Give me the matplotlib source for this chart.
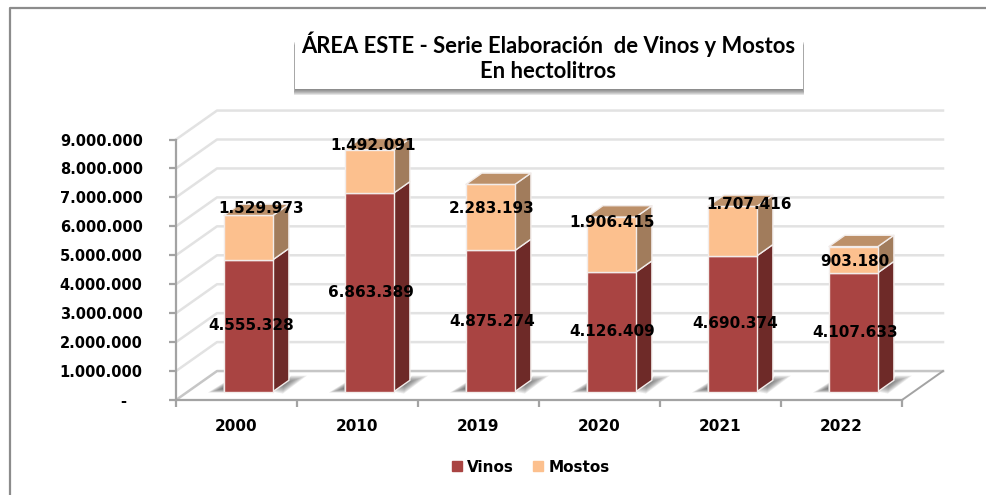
import matplotlib
matplotlib.use('Agg')
import matplotlib.pyplot as plt
from matplotlib.patches import Patch, Rectangle

years = ['2000', '2010', '2019', '2020', '2021', '2022']
vinos = [4555328, 6863389, 4875274, 4126409, 4690374, 4107633]
mostos = [1529973, 1492091, 2283193, 1906415, 1707416, 903180]
y_ticks = [0, 1000000, 2000000, 3000000, 4000000, 5000000, 6000000, 7000000, 8000000, 9000000]

# hand placed label offsets, in pixels from the category centre / segment middle
vinos_off = [(14.5, 0), (13.5, 0), (13.5, 0), (12.5, 0), (14.5, 0), (13.5, 0)]
mostos_off = [(24.5, 29), (15.5, 26), (13.5, 9), (12.5, 22), (28.5, 27), (13.5, -2)]

W, H = 987, 495
RED, RED_SIDE = '#a94442', '#6e2a28'
PEACH, PEACH_SIDE, PEACH_TOP = '#fcc08e', '#a17c5c', '#bc9069'
GRID = '#e2e2e2'
FLOOR = '#c6c6c6'
AXIS = '#a3a3a3'
EDGE = '#f2ecea'

# one unit of depth = 41px across, 1M up
DX = 41 / 121
DY = 1000000
PX_X = 1 / 121
PX_Y = 1000000 / 29
BAR_W = 49 / 121
BAR_D0 = 0.29
BAR_D1 = 0.68

# floor shadow outline, pixels from the bar's front right foot, and where it fades to
SHADOW_R = [(0, 0), (16, 12), (18, 16), (34, 16), (10, -2)]
SHADOW_R_IN = (11, 8)
SHADOW_L = [(-49, -1), (-65, -1), (-49, 9)]
SHADOW_L_IN = (-50, 3)


def fmt(v):
	return f'{v:,}'.replace(',', '.')


def pr(x, y, d):
	return x + d * DX, y + d * DY


def face(ax, pts, color, z, edge=EDGE, lw=1.0, alpha=None):
	xs = [p[0] for p in pts]
	ys = [p[1] for p in pts]
	ax.fill(xs, ys, facecolor=color, edgecolor=edge, lw=lw, zorder=z, alpha=alpha,
		clip_on=False, joinstyle='round')


def shadow(ax, foot, outline, inner):
	for k in range(10):
		s = 1 - k / 10
		pts = []
		for px, py in outline:
			qx = inner[0] + (px - inner[0]) * s
			qy = inner[1] + (py - inner[1]) * s
			pts.append((foot[0] + qx * PX_X, foot[1] + qy * PX_Y))
		face(ax, pts, '#404040', 2, edge='none', lw=0, alpha=0.1)


fig = plt.figure(figsize=(W / 100, H / 100), dpi=100, facecolor='white')
ax = fig.add_axes([176 / W, (H - 400) / H, (902 - 176) / W, (400 - 139.5) / H])
ax.set_xlim(-0.5, 5.5)
ax.set_ylim(0, 9000000)
ax.patch.set_alpha(0)

# back wall, side wall, floor
for t in y_ticks:
	col = FLOOR if t == 0 else GRID
	ax.plot([pr(-0.5, t, 0)[0], pr(-0.5, t, 1)[0], pr(5.5, t, 1)[0]],
		[pr(-0.5, t, 0)[1], pr(-0.5, t, 1)[1], pr(5.5, t, 1)[1]],
		color=col, lw=1.8, zorder=1, clip_on=False)
ax.plot([5.5, pr(5.5, 0, 1)[0]], [0, pr(5.5, 0, 1)[1]], color=AXIS, lw=1.4, zorder=1, clip_on=False)

# bars
for i in range(len(years)):
	x0 = i - BAR_W / 2
	x1 = i + BAR_W / 2
	v = vinos[i]
	top = v + mostos[i]

	foot = pr(x1, 0, BAR_D0)
	shadow(ax, foot, SHADOW_R, SHADOW_R_IN)
	shadow(ax, foot, SHADOW_L, SHADOW_L_IN)

	face(ax, [pr(x1, 0, BAR_D0), pr(x1, 0, BAR_D1), pr(x1, v, BAR_D1), pr(x1, v, BAR_D0)], RED_SIDE, 3)
	face(ax, [pr(x0, 0, BAR_D0), pr(x1, 0, BAR_D0), pr(x1, v, BAR_D0), pr(x0, v, BAR_D0)], RED, 3)
	face(ax, [pr(x1, v, BAR_D0), pr(x1, v, BAR_D1), pr(x1, top, BAR_D1), pr(x1, top, BAR_D0)], PEACH_SIDE, 3)
	face(ax, [pr(x0, v, BAR_D0), pr(x1, v, BAR_D0), pr(x1, top, BAR_D0), pr(x0, top, BAR_D0)], PEACH, 3)
	face(ax, [pr(x0, top, BAR_D0), pr(x1, top, BAR_D0), pr(x1, top, BAR_D1), pr(x0, top, BAR_D1)], PEACH_TOP, 3)

	ymid = pr(i, v / 2, BAR_D0)[1]
	ax.annotate(fmt(v), (i, ymid), xytext=(vinos_off[i][0] * 0.72, vinos_off[i][1] * 0.72),
		textcoords='offset points', ha='center', va='center', fontsize=11,
		fontweight='bold', color='black', zorder=6, annotation_clip=False)
	ymid = pr(i, v + mostos[i] / 2, BAR_D0)[1]
	ax.annotate(fmt(mostos[i]), (i, ymid), xytext=(mostos_off[i][0] * 0.72, mostos_off[i][1] * 0.72),
		textcoords='offset points', ha='center', va='center', fontsize=11,
		fontweight='bold', color='black', zorder=6, annotation_clip=False)

# axes
for s in ['top', 'right']:
	ax.spines[s].set_visible(False)
for s in ['left', 'bottom']:
	ax.spines[s].set_color(AXIS)
	ax.spines[s].set_linewidth(1.6)
	ax.spines[s].set_zorder(5)
ax.set_yticks(y_ticks)
ax.set_yticklabels(['-   ' if t == 0 else fmt(t) for t in y_ticks], fontsize=10.5, fontweight='bold')
ax.tick_params(axis='y', length=5, width=1.6, color=AXIS, pad=19)
ax.set_xticks([i - 0.5 for i in range(len(years) + 1)])
ax.set_xticklabels([])
ax.set_xticks(range(len(years)), minor=True)
ax.set_xticklabels(years, minor=True, fontsize=11, fontweight='bold')
ax.tick_params(axis='x', which='major', length=5, width=1.6, color=AXIS)
ax.tick_params(axis='x', which='minor', length=0, pad=14)

# legend
handles = [Patch(color=RED, label='Vinos'), Patch(color=PEACH, label='Mostos')]
fig.legend(handles=handles, ncol=2, frameon=False, loc='center',
	prop={'weight': 'bold', 'size': 11}, bbox_to_anchor=(531 / W, (H - 467) / H),
	handlelength=0.65, handleheight=0.65, handletextpad=0.35, columnspacing=1.25)

# title box with shadow
for k in range(6):
	off = 6 - k
	fig.add_artist(Rectangle(((295 - off * 0.25) / W, (H - 89 - off) / H), (508 + off * 0.5) / W, 50 / H,
		transform=fig.transFigure, facecolor='#444444', edgecolor='none', alpha=0.14))
fig.add_artist(Rectangle((295 / W, (H - 89) / H), 508 / W, 61 / H, transform=fig.transFigure,
	facecolor='white', edgecolor='none'))
fig.text(548 / W, (H - 44) / H, 'ÁREA ESTE - Serie Elaboración  de Vinos y Mostos', family='Lato',
	fontsize=15.8, fontweight='bold', ha='center', va='center')
fig.text(548 / W, (H - 72) / H, 'En hectolitros', family='Lato',
	fontsize=15.8, fontweight='bold', ha='center', va='center')

# outer frame, only top and left show
fig.add_artist(plt.Line2D([9.5 / W, 9.5 / W, 1], [0, (H - 7.5) / H, (H - 7.5) / H],
	color='#8c8c8c', lw=1.6, transform=fig.transFigure))

fig.savefig('out.png', dpi=100)
